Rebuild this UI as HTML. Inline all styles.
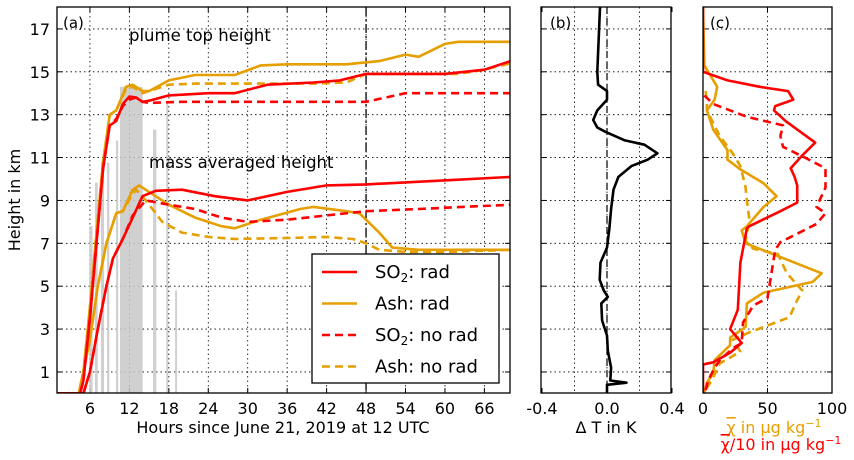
<!DOCTYPE html>
<html><head><meta charset="utf-8">
<style>
html,body{margin:0;padding:0;background:#fff;}
svg{display:block;font-family:"DejaVu Sans","Liberation Sans",sans-serif;}
</style></head>
<body>
<svg id="fig" width="854" height="460" viewBox="0 0 854 460"></svg>
<script>
// ---------- Panel (a) data: hours -> km ----------
const barStarts=[5.9,6.77,7.68,8.6,9.96,10.57,15.6,17.6,18.95];
const barEnds=[6.4,7.18,8.14,8.95,10.3,14.02,16.1,17.9,19.25];
const barHeights=[7.8,9.83,10.8,10.76,11.8,14.3,12.3,13.6,4.8];

const so2RadTopX=[1,4.5,5,6,7,8,9,10,11,12,13,14,15,18,24,28,33,40,44,48,60,66,70];
const so2RadTopY=[0,0,0.6,3.5,7,10.5,12.5,12.7,13.5,13.85,13.8,13.6,13.65,13.9,14.0,14.0,14.4,14.5,14.6,14.9,14.9,15.1,15.5];
const so2NoTopX=[1,4.5,5,6,7,8,9,10,11,12,13,14,15,20,30,40,48,51,54,60,70];
const so2NoTopY=[0,0,0.6,3.5,7,10.5,12.5,12.8,13.4,13.7,13.8,13.6,13.55,13.6,13.6,13.6,13.6,13.8,14.0,14.0,14.0];
const ashRadTopX=[1,4.3,5,6,7,8,9,10,11.5,12.5,14,15,18,22,28,32,36,45,50,54,56,60,62,70];
const ashRadTopY=[0,0,1,4,7.5,10.8,13,13.2,14.3,14.4,14.1,14.1,14.6,14.85,14.85,15.3,15.35,15.35,15.5,15.8,15.7,16.3,16.4,16.4];
const ashNoTopX=[1,4.3,5,6,7,8,9,10,11.5,12.5,14,18,22,30,40,45,48,55,62,66,70];
const ashNoTopY=[0,0,1,4,7.5,10.8,13,13.2,14.2,14.3,14.0,14.4,14.45,14.45,14.45,14.5,14.9,14.9,14.9,15.1,15.4];

const so2RadMassX=[1,5,6,7.2,8.5,9.5,11,12.5,14,16,20,25,30,36,42,48,58,70];
const so2RadMassY=[0,0,1,3,5,6.3,7.2,8.2,9.2,9.45,9.5,9.2,9.0,9.4,9.7,9.75,9.9,10.1];
const so2NoMassX=[1,5,6,7.2,8.5,9.5,11,12.5,14.5,18,22,26,30,36,42,48,56,70];
const so2NoMassY=[0,0,1,3,5,6.3,7.2,8.3,9.0,8.8,8.6,8.2,8.0,8.1,8.3,8.5,8.6,8.8];
const ashRadMassX=[1,4.3,6,7.2,8.5,10,11,12.5,13.5,15,18,22,26,28,32,38,40,45,47,50,52,56,70];
const ashRadMassY=[0,0,2.5,5,7,8.4,8.5,9.5,9.7,9.4,8.8,8.2,7.8,7.7,8.1,8.6,8.7,8.5,8.4,7.5,6.8,6.7,6.7];
const ashNoMassX=[1,4.3,6,7.2,8.5,10,11,12.5,13,14.5,17,20,24,28,36,42,46,48,50,54,60,70];
const ashNoMassY=[0,0,2.5,5,7,8.4,8.5,9.3,9.5,9.0,8.0,7.5,7.3,7.2,7.25,7.3,7.2,7.0,6.7,6.6,6.6,6.7];

const xTicksA=[6,12,18,24,30,36,42,48,54,60,66];
const yTicks=[1,3,5,7,9,11,13,15,17];

// ---------- Panel (b) data: km -> K ----------
const dTHeights=[18,15.0,14.4,14.1,13.7,13.2,12.75,12.4,12.2,11.8,11.6,11.2,10.9,10.6,10.1,9.5,8.6,7.7,6.8,6.1,5.3,4.8,4.5,4.2,3.4,2.7,2.0,1.2,0.6,0.5,0.4,0];
const dTValues=[-0.043,-0.06,-0.055,0.0,0.0,-0.06,-0.085,-0.06,-0.01,0.11,0.23,0.31,0.25,0.15,0.07,0.04,0.025,0.015,0.0,-0.04,-0.045,-0.02,0.005,-0.035,-0.03,0.0,0.005,0.025,0.02,0.12,0.0,0.0];
const xTicksB=[-0.4,0.0,0.4];
const xGridB=[-0.2,0,0.2];

// ---------- Panel (c) data: km -> ug/kg ----------
const so2RadProfH=[18,15.0,14.6,14.3,14.1,13.7,13.4,13.2,12.7,11.7,11.1,10.5,10.1,9.7,8.9,8.5,7.8,7.7,6.1,3.9,3.0,2.35,1.9,1.45,1.35,0];
const so2RadProfV=[0,0,19,44,66,70,56,55,64,87,77,68,71,73,73,60,36,34,29,27,21,30,21,8,0,0];
const so2NoProfH=[13.9,13.5,12.9,12.5,12.0,11.5,11.0,10.5,9.6,8.7,8.4,7.9,7.05,6.7,4.45,4.1,3.3,2.35,2.1,1.55,1.2,0.6,0.15];
const so2NoProfV=[1,8,34,62,60,62,79,95,95,88,95,88,60,56,50,39,31,30,23,13,9,4,2];
const ashRadProfH=[18,15.3,14.3,13.7,13.2,12.3,11.35,10.9,10.45,9.8,9.2,8.7,7.8,7.6,7.0,5.6,5.2,4.7,4.2,3.1,2.6,2.25,1.55,0.95,0.5,0];
const ashRadProfV=[0,1,11,9,3,8,19,19,29,47,57,47,34,30,33,92,85,47,34,33,21,21,9,8,3,1];
const ashNoProfH=[14.1,13.7,13.2,12.0,11.2,10.6,9.6,9.0,8.1,7.1,6.75,6.5,5.6,4.8,4.35,3.55,2.85,2.5,1.95,1.4,0.75,0.15];
const ashNoProfV=[2,3,3,13,23,29,33,34,36,33,39,58,65,77,73,67,36,23,29,13,8,2];
const xTicksC=[0,50,100];
const xGridC=[50];

// ---------- geometry ----------
const NS='http://www.w3.org/2000/svg';
const svg=document.getElementById('fig');
const Y0=393.4, YS=21.44;
const yS=v=>Y0-v*YS;
const A={l:57,r:510,t:7,b:393};
const xA=v=>50.5+v*6.574;
const B={l:541,r:671,t:7,b:393};
const xB=v=>607+v*162.5;
const C={l:703,r:832,t:7,b:393};
const xC=v=>703+v*1.29;
const RED='#ff0000', ORG='#e69f00';

function el(tag,attrs,parent){const e=document.createElementNS(NS,tag);for(const k in attrs)e.setAttribute(k,attrs[k]);(parent||svg).appendChild(e);return e;}
function txt(s,x,y,opt,parent){const t=el('text',Object.assign({x:x,y:y,'font-size':16,fill:'#000'},opt||{}),parent);t.textContent=s;return t;}
function clip(id,box){const cp=el('clipPath',{id:id});el('rect',{x:box.l,y:box.t,width:box.r-box.l,height:box.b-box.t},cp);}
function pts(xs,ys,fx,fy){return xs.map((v,i)=>fx(v).toFixed(1)+','+fy(ys[i]).toFixed(1)).join(' ');}

clip('ca',A);clip('cb',B);clip('cc',C);

function frame(box,name,xticks,xf,xgrid,xlabels){
  const g=el('g',{});
  
  
  const grid=el('g',{stroke:'#000','stroke-width':0.8,'stroke-dasharray':'1.5,3'},g);
  
  
  xgrid.forEach(v=>el('line',{x1:xf(v),x2:xf(v),y1:box.t,y2:box.b},grid));
  yTicks.forEach(v=>el('line',{x1:box.l,x2:box.r,y1:yS(v),y2:yS(v)},grid));
  const tk=el('g',{stroke:'#000','stroke-width':1},g);
  xticks.forEach(v=>{const x=xf(v);el('line',{x1:x,x2:x,y1:box.b,y2:box.b-5},tk);el('line',{x1:x,x2:x,y1:box.t,y2:box.t+5},tk);});
  yTicks.forEach(v=>{const y=yS(v);el('line',{x1:box.l,x2:box.l+5,y1:y,y2:y},tk);el('line',{x1:box.r,x2:box.r-5,y1:y,y2:y},tk);});
  if(xlabels){xticks.forEach(v=>{const t=txt(xlabels(v),xf(v),414,{'text-anchor':'middle'},g);});}
  return g;
}
function line(xs,ys,fx,fy,color,dash,name,cid){
  const p=el('polyline',{points:pts(xs,ys,fx,fy),fill:'none',stroke:color,'stroke-width':2.6,'stroke-linejoin':'round','clip-path':'url(#'+cid+')'});
  if(dash)p.setAttribute('stroke-dasharray',dash);
  
  
  return p;
}

// ---------- Panel (a) ----------
frame(A,'panel-a',xTicksA,xA,xTicksA,v=>String(v));
const bars=el('g',{fill:'#c8c8c8','fill-opacity':0.85,'clip-path':'url(#ca)'});


barStarts.forEach((s,i)=>{
  const r=el('rect',{x:xA(s),y:yS(barHeights[i]),width:xA(barEnds[i])-xA(s),height:Y0-yS(barHeights[i])},bars);
  
  
});
const vl=el('line',{x1:xA(48),x2:xA(48),y1:A.t,y2:A.b,stroke:'#000','stroke-width':1.3,'stroke-dasharray':'9,3,2,3'});


line(ashNoTopX,ashNoTopY,xA,yS,ORG,'8,5','ash-norad-top','ca');
line(ashNoMassX,ashNoMassY,xA,yS,ORG,'8,5','ash-norad-mass','ca');
line(ashRadTopX,ashRadTopY,xA,yS,ORG,null,'ash-rad-top','ca');
line(ashRadMassX,ashRadMassY,xA,yS,ORG,null,'ash-rad-mass','ca');
line(so2NoTopX,so2NoTopY,xA,yS,RED,'8,5','so2-norad-top','ca');
line(so2NoMassX,so2NoMassY,xA,yS,RED,'8,5','so2-norad-mass','ca');
line(so2RadTopX,so2RadTopY,xA,yS,RED,null,'so2-rad-top','ca');
line(so2RadMassX,so2RadMassY,xA,yS,RED,null,'so2-rad-mass','ca');
el('rect',{x:A.l,y:A.t,width:A.r-A.l,height:A.b-A.t,fill:'none',stroke:'#000','stroke-width':1.3});
yTicks.forEach(v=>{const t=txt(String(v),50,yS(v)+6,{'text-anchor':'end'});});
let t;
t=txt('(a)',63,28,{'font-size':15});
t=txt('plume top height',129,41,{'font-size':16.5});
t=txt('mass averaged height',149,168,{'font-size':16.5});
t=txt('Height in km',20,200,{'text-anchor':'middle',transform:'rotate(-90 20 200)'});
t=txt('Hours since June 21, 2019 at 12 UTC',283,433,{'text-anchor':'middle'});

// legend
const lg=el('g',{});


el('rect',{x:312,y:254,width:187,height:129,fill:'#fff',stroke:'#000','stroke-width':1.3},lg);
const legItems=[['SO','2',': rad',RED,null],['Ash: rad','','',ORG,null],['SO','2',': no rad',RED,'8,5'],['Ash: no rad','','',ORG,'8,5']];
legItems.forEach((it,i)=>{
  const y=272+i*31.5;
  const g=el('g',{},lg);
  
  
  const l=el('line',{x1:322,x2:357,y1:y,y2:y,stroke:it[3],'stroke-width':2.6},g);
  if(it[4])l.setAttribute('stroke-dasharray',it[4]);
  const tt=el('text',{x:375,y:y+6,'font-size':18},g);
  tt.appendChild(document.createTextNode(it[0]));
  if(it[1]){const s=el('tspan',{'font-size':12,dy:4},tt);s.textContent=it[1];const r=el('tspan',{dy:-4},tt);r.textContent=it[2];}
});

// ---------- Panel (b) ----------
frame(B,'panel-b',xTicksB,xB,xGridB,v=>v.toFixed(1));
const zl=el('line',{x1:xB(0),x2:xB(0),y1:B.t,y2:B.b,stroke:'#000','stroke-width':1.2,'stroke-dasharray':'7,4'});


line(dTValues,dTHeights,xB,yS,'#000',null,'delta-t-profile','cb');
el('rect',{x:B.l,y:B.t,width:B.r-B.l,height:B.b-B.t,fill:'none',stroke:'#000','stroke-width':1.3});
t=txt('(b)',550,28,{'font-size':15});
t=txt('Δ T in K',606,433,{'text-anchor':'middle'});

// ---------- Panel (c) ----------
frame(C,'panel-c',xTicksC,xC,xGridC,v=>String(v));
line(ashNoProfV,ashNoProfH,xC,yS,ORG,'8,5','ash-norad-profile','cc');
line(ashRadProfV,ashRadProfH,xC,yS,ORG,null,'ash-rad-profile','cc');
line(so2NoProfV,so2NoProfH,xC,yS,RED,'8,5','so2-norad-profile','cc');
line(so2RadProfV,so2RadProfH,xC,yS,RED,null,'so2-rad-profile','cc');
el('rect',{x:C.l,y:C.t,width:C.r-C.l,height:C.b-C.t,fill:'none',stroke:'#000','stroke-width':1.3});
t=txt('(c)',710,28,{'font-size':15});
function chiLabel(x,y,color,suffix,name){
  const tt=el('text',{x:x,y:y,'font-size':16,fill:color,'text-anchor':'middle'});
  
  
  const a=el('tspan',{'text-decoration':'overline'},tt);a.textContent='χ';
  const b=el('tspan',{},tt);b.textContent=suffix+' in μg kg';
  const c=el('tspan',{'font-size':11,dy:-6},tt);c.textContent='−1';
  return tt;
}
chiLabel(774,433,ORG,'','panel-c-x-title-ash');
chiLabel(781,450,RED,'/10','panel-c-x-title-so2');
</script>
</body></html>
